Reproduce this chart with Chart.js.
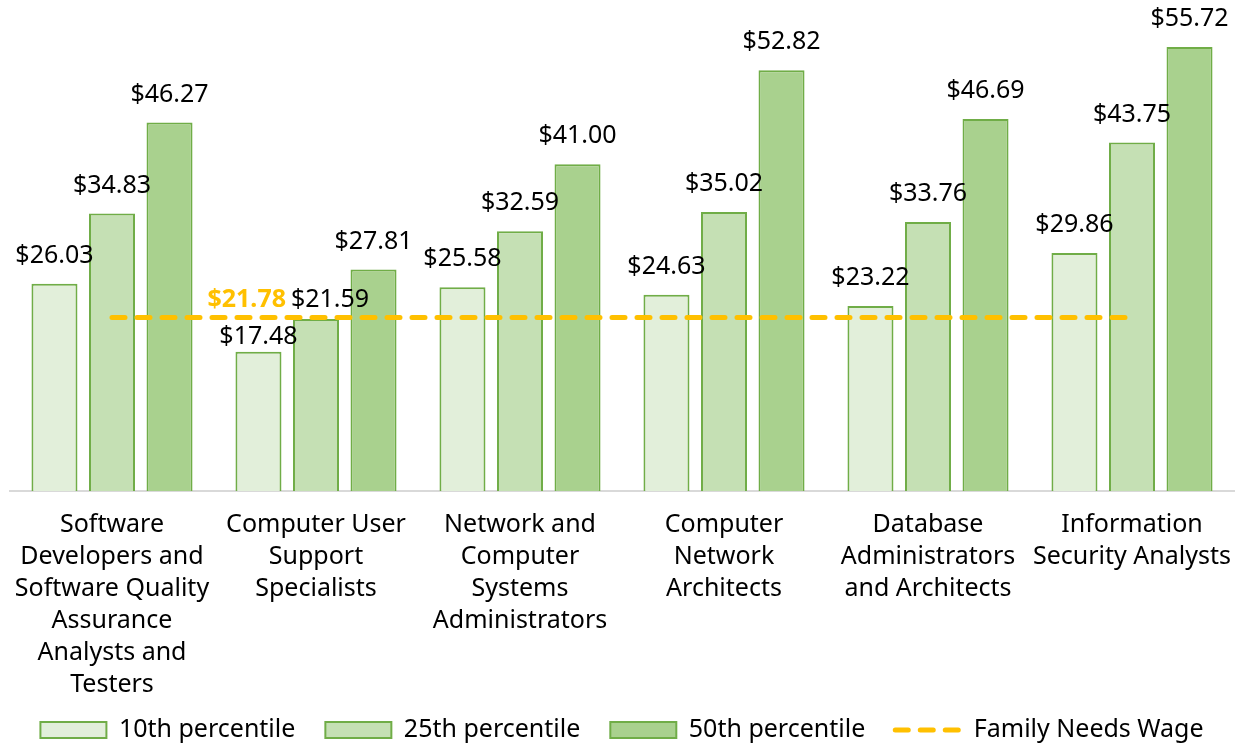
<!DOCTYPE html>
<html>
<head>
<meta charset="utf-8">
<script src="https://cdn.jsdelivr.net/npm/chart.js@4.4.1/dist/chart.umd.min.js"></script>
<style>
    html, body { margin: 0; padding: 0; background: #ffffff; }
    #wrap { width: 1242px; height: 747px; }
</style>
</head>
<body>
<div id="wrap"><canvas id="wage-chart"></canvas></div>
<script>
// setup chart
const occupations = [
    ["Software", "Developers and", "Software Quality", "Assurance", "Analysts and", "Testers"],
    ["Computer User", "Support", "Specialists"],
    ["Network and", "Computer", "Systems", "Administrators"],
    ["Computer", "Network", "Architects"],
    ["Database", "Administrators", "and Architects"],
    ["Information", "Security Analysts"],
];
const pct10 = [26.03, 17.48, 25.58, 24.63, 23.22, 29.86];
const pct25 = [34.83, 21.59, 32.59, 35.02, 33.76, 43.75];
const pct50 = [46.27, 27.81, 41.00, 52.82, 46.69, 55.72];
const familyNeedsWage = [21.78, 21.78, 21.78, 21.78, 21.78, 21.78];

const fontFamily = "'Noto Sans', sans-serif";
const barBorder = "#70AD47";
const lineDash = [13, 12];

// labels above bars + the one gold label of the line
const valueLabels = {
    id: "valueLabels",
    afterDatasetsDraw(chart) {
        const ctx = chart.ctx;
        ctx.save();
        ctx.font = "25px " + fontFamily;
        ctx.textAlign = "center";
        ctx.textBaseline = "middle";
        ctx.fillStyle = "#000000";
        [0, 1, 2].forEach(function (di) {
            const meta = chart.getDatasetMeta(di);
            meta.data.forEach(function (bar, i) {
                const v = chart.data.datasets[di].data[i];
                let dx = 0, dy = -28;
                // small nudges like the original, so text does not sit on the dashed line
                if (di === 0 && i === 1) dy = -15;
                if (di === 1 && i === 1) { dy = -19; dx = 14; }
                ctx.fillText("$" + v.toFixed(2), bar.x + dx, bar.y + dy);
            });
        });
        const line = chart.getDatasetMeta(3).data[1];
        ctx.font = "bold 25px " + fontFamily;
        ctx.fillStyle = "#FFC000";
        ctx.textAlign = "right";
        ctx.fillText("$" + familyNeedsWage[1].toFixed(2), line.x - 30, line.y - 18);
        ctx.restore();
    },
};

// legend: wide gaps between items but a short box
const legendSqueeze = {
    id: "legendSqueeze",
    afterInit(chart) {
        const legend = chart.legend;
        const fit = legend.fit;
        const draw = legend.draw;
        legend.fit = function () {
            fit.call(this);
            this.height -= 29;
        };
        legend.draw = function () {
            const top = this.top;
            this.top = top - 23.5;
            draw.apply(this, arguments);
            this.top = top;
        };
    },
};

const dataWage = {
    labels: occupations,
    datasets: [
        {
            label: "10th percentile",
            data: pct10,
            backgroundColor: "#E2EFDA",
            borderColor: barBorder,
            borderWidth: 2,
            pointStyle: "rect",
            order: 2,
        },
        {
            label: "25th percentile",
            data: pct25,
            backgroundColor: "#C5E0B4",
            borderColor: barBorder,
            borderWidth: 2,
            pointStyle: "rect",
            order: 2,
        },
        {
            label: "50th percentile",
            data: pct50,
            backgroundColor: "#A9D18E",
            borderColor: barBorder,
            borderWidth: 2,
            pointStyle: "rect",
            order: 2,
        },
        {
            type: "line",
            label: "Family Needs Wage",
            data: familyNeedsWage,
            borderColor: "#FFC000",
            backgroundColor: "#FFC000",
            borderWidth: 5,
            borderDash: lineDash,
            borderCapStyle: "round",
            pointRadius: 0,
            pointStyle: "line",
            order: 1,
        },
    ],
};

// config
const configWage = {
    type: "bar",
    data: dataWage,
    plugins: [valueLabels, legendSqueeze],
    options: {
        responsive: true,
        maintainAspectRatio: false,
        animation: false,
        categoryPercentage: 0.846,
        barPercentage: 0.8,
        layout: {
            padding: { top: 13, left: 10, right: 8, bottom: 0 },
        },
        plugins: {
            legend: {
                position: "bottom",
                labels: {
                    usePointStyle: true,
                    pointStyleWidth: 66,
                    boxHeight: 16,
                    color: "#000000",
                    padding: 30,
                    font: { family: fontFamily, size: 25 },
                    sort: function (a, b) {
                        return a.datasetIndex - b.datasetIndex;
                    },
                    generateLabels: function (chart) {
                        const items = Chart.defaults.plugins.legend.labels.generateLabels(chart);
                        items.forEach(function (item) {
                            if (item.datasetIndex === 3) {
                                item.lineDash = lineDash;
                                item.lineCap = "round";
                                item.lineWidth = 5;
                            }
                        });
                        return items;
                    },
                },
            },
            tooltip: { enabled: false },
        },
        scales: {
            y: {
                display: false,
                min: 0,
                max: 60,
            },
            x: {
                border: {
                    display: true,
                    color: "#D9D9D9",
                    width: 2,
                },
                grid: {
                    display: false,
                },
                ticks: {
                    color: "#000000",
                    padding: 10,
                    maxRotation: 0,
                    autoSkip: false,
                    font: { family: fontFamily, size: 25, lineHeight: 1.28 },
                },
            },
        },
    },
};

// render init block
const ctx = document.getElementById("wage-chart");
new Chart(ctx, configWage);
</script>
</body>
</html>
